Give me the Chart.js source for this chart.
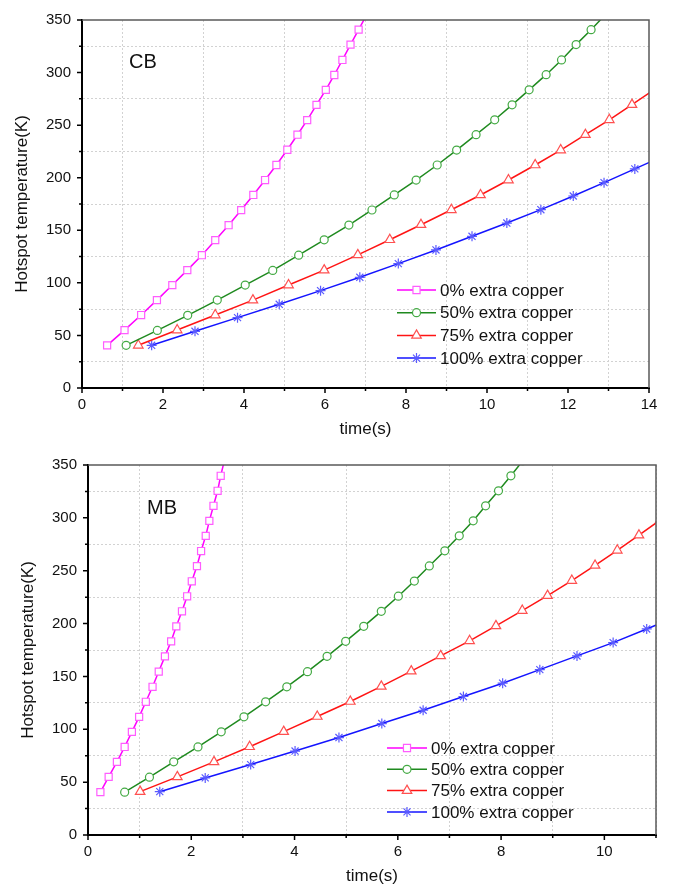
<!DOCTYPE html>
<html><head><meta charset="utf-8">
<script src="https://cdn.jsdelivr.net/npm/chart.js@4.4.1/dist/chart.umd.min.js"></script>
<style>
html,body{margin:0;padding:0;background:#fff;}
canvas{display:block;}
</style></head><body>
<canvas id="cb" width="676" height="445"></canvas>
<canvas id="mb" width="676" height="445"></canvas>
<script>
const FONT = "'Liberation Sans', Arial, sans-serif";

// ---------- data ----------
const seriesLabels = ['0% extra copper', '50% extra copper', '75% extra copper', '100% extra copper'];

// CB panel
const cbTime0   = [0.62,1.05,1.46,1.85,2.23,2.60,2.96,3.29,3.62,3.93,4.23,4.52,4.80,5.07,5.32,5.56,5.79,6.02,6.23,6.43,6.63,6.83,7.03];
const cbTemp0   = [40.6,55.0,69.4,83.6,97.9,112.1,126.3,140.6,154.8,169.2,183.6,197.8,212.1,226.6,240.9,254.8,269.3,283.6,297.7,312.0,326.6,340.8,355.0];
const cbTime50  = [1.09,1.86,2.61,3.34,4.03,4.71,5.35,5.98,6.59,7.16,7.71,8.25,8.77,9.25,9.73,10.19,10.62,11.04,11.46,11.84,12.20,12.57,12.92];
const cbTemp50  = [40.6,54.8,69.1,83.6,97.9,111.8,126.3,140.9,155.0,169.3,183.6,197.8,212.1,226.3,240.9,255.1,269.3,283.6,298.0,312.0,326.6,340.8,355.0];
const cbTime75  = [1.39,2.35,3.29,4.22,5.10,5.98,6.81,7.60,8.37,9.12,9.84,10.53,11.19,11.82,12.43,13.02,13.58,14.13];
const cbTemp75  = [40.6,55.1,69.4,83.6,97.9,112.1,126.6,141.0,155.3,169.5,183.6,197.8,212.1,226.3,240.9,255.1,269.5,283.8];
const cbTime100 = [1.72,2.79,3.84,4.87,5.89,6.86,7.81,8.74,9.63,10.49,11.33,12.13,12.89,13.65,14.40];
const cbTemp100 = [40.6,53.9,66.9,79.6,92.6,105.3,118.3,131.3,144.3,156.9,169.6,182.6,195.3,208.4,221.3];

// MB panel
const mbTime0   = [0.24,0.40,0.56,0.71,0.85,0.99,1.12,1.25,1.37,1.49,1.61,1.71,1.82,1.92,2.01,2.11,2.19,2.28,2.35,2.43,2.51,2.57,2.64];
const mbTemp0   = [40.5,55.0,69.2,83.3,97.6,111.8,126.0,140.2,154.6,169.0,183.2,197.4,211.6,225.8,240.0,254.4,268.6,283.0,297.2,311.4,325.6,339.8,354.0];
const mbTime50  = [0.71,1.19,1.66,2.13,2.58,3.02,3.44,3.85,4.25,4.63,4.99,5.34,5.68,6.01,6.32,6.61,6.91,7.19,7.46,7.70,7.95,8.19,8.42];
const mbTemp50  = [40.5,54.7,69.2,83.3,97.6,111.8,126.0,140.2,154.5,169.0,183.2,197.4,211.6,225.9,240.2,254.5,268.8,283.0,297.2,311.4,325.6,339.8,354.0];
const mbTime75  = [1.01,1.73,2.44,3.13,3.79,4.44,5.08,5.68,6.26,6.83,7.39,7.90,8.41,8.90,9.37,9.82,10.25,10.67,11.08];
const mbTemp75  = [41.0,55.0,69.2,83.5,97.8,112.1,126.3,140.6,155.0,169.4,183.7,197.8,212.3,226.4,240.7,255.0,269.3,283.6,297.9];
const mbTime100 = [1.39,2.27,3.15,4.01,4.86,5.69,6.49,7.27,8.03,8.75,9.47,10.17,10.82,11.45];
const mbTemp100 = [41.0,54.0,66.6,79.4,92.2,105.4,118.0,131.0,143.6,156.4,169.4,182.0,194.9,207.5];

// tick labels
const cbXTickLabels = [0,2,4,6,8,10,12,14];
const mbXTickLabels = [0,2,4,6,8,10];
const yTickLabels   = [0,50,100,150,200,250,300,350];

// ---------- styles ----------
const styles = [
  {line:'#ff00ff', mark:'#ff5cff', pointStyle:'rect',     radius:5},
  {line:'#1f8a1f', mark:'#44aa44', pointStyle:'circle',   radius:4},
  {line:'#ff1414', mark:'#ff5050', pointStyle:'triangle', radius:5.5},
  {line:'#1414ff', mark:'#5a5aff', pointStyle:'star',     radius:5}
];

const decor = {
  id: 'decor',
  afterDraw(chart, args, o) {
    const {ctx, chartArea: a, scales: {x, y}} = chart;
    ctx.save();
    ctx.lineCap = 'butt';
    // top & right frame
    ctx.strokeStyle = '#5a5a5a'; ctx.lineWidth = 1.5;
    ctx.beginPath(); ctx.moveTo(a.left, a.top); ctx.lineTo(a.right, a.top); ctx.lineTo(a.right, a.bottom); ctx.stroke();
    // outward tick marks
    ctx.strokeStyle = '#000'; ctx.lineWidth = 1.5;
    ctx.beginPath();
    x.ticks.forEach(t => {
      const p = x.getPixelForValue(t.value);
      const L = o.xMajor.includes(t.value) ? 5 : 3;
      ctx.moveTo(p, a.bottom); ctx.lineTo(p, a.bottom + L);
    });
    y.ticks.forEach(t => {
      const p = y.getPixelForValue(t.value);
      const L = o.yMajor.includes(t.value) ? 5 : 3;
      ctx.moveTo(a.left, p); ctx.lineTo(a.left - L, p);
    });
    ctx.stroke();
    // panel tag
    ctx.fillStyle = '#111'; ctx.font = '20px ' + FONT; ctx.textBaseline = 'middle'; ctx.textAlign = 'left';
    ctx.fillText(o.tag, a.left + o.tagDx, a.top + o.tagDy);
    // legend
    chart.data.datasets.forEach((ds, i) => {
      const yy = a.top + o.legDy + i * o.legGap;
      const x0 = a.left + o.legDx;
      ctx.strokeStyle = ds.borderColor; ctx.lineWidth = ds.borderWidth;
      ctx.beginPath(); ctx.moveTo(x0, yy); ctx.lineTo(x0 + o.legLen, yy); ctx.stroke();
      ctx.strokeStyle = ds.pointBorderColor; ctx.fillStyle = ds.pointBackgroundColor; ctx.lineWidth = ds.pointBorderWidth;
      Chart.helpers.drawPoint(ctx, {pointStyle: ds.pointStyle, radius: ds.pointRadius, rotation: 0, borderWidth: ds.pointBorderWidth}, x0 + o.legLen / 2, yy);
      ctx.fillStyle = '#111'; ctx.font = '17px ' + FONT; ctx.textBaseline = 'middle';
      ctx.fillText(ds.label, x0 + o.legLen + o.legTextGap, yy + 1);
    });
    ctx.restore();
  }
};

function makeChart(id, series, g) {
  const datasets = series.map((s, i) => ({
    label: seriesLabels[i],
    data: s.t.map((t, k) => ({x: t, y: s.T[k]})),
    showLine: true,
    borderColor: styles[i].line,
    borderWidth: 1.5,
    pointStyle: styles[i].pointStyle,
    pointRadius: styles[i].radius,
    pointHoverRadius: styles[i].radius,
    pointBorderColor: styles[i].mark,
    pointBackgroundColor: '#ffffff',
    pointBorderWidth: 1.2,
    tension: 0
  }));
  return new Chart(document.getElementById(id), {
    type: 'scatter',
    data: {datasets},
    plugins: [decor],
    options: {
      responsive: false, animation: false, devicePixelRatio: 1,
      layout: {padding: {left: 0, top: g.top, right: g.right, bottom: 0}},
      plugins: {legend: {display: false}, tooltip: {enabled: false}, decor: g},
      scales: {
        x: {
          type: 'linear', min: 0, max: g.xMax,
          afterFit: s => { s.height = g.xAxisH; },
          ticks: {stepSize: 1, autoSkip: false, maxRotation: 0, padding: 8, color: '#111',
                  font: {family: FONT, size: 15},
                  callback: v => g.xMajor.includes(v) ? String(v) : ''},
          grid: {drawTicks: false, lineWidth: 1,
                 color: c => (c.tick && Math.abs(c.tick.value % 2) === 1) ? '#d2d2d2' : 'rgba(0,0,0,0)'},
          border: {display: true, color: '#000', width: 2, dash: [2, 2]},
          title: {display: true, text: 'time(s)', color: '#111', font: {family: FONT, size: 17},
                  padding: {top: 0, bottom: g.xTitlePad}}
        },
        y: {
          type: 'linear', min: 0, max: 350,
          afterFit: s => { s.width = g.yAxisW; },
          ticks: {stepSize: 25, autoSkip: false, padding: 11, color: '#111',
                  font: {family: FONT, size: 15},
                  callback: v => g.yMajor.includes(v) ? String(v) : ''},
          grid: {drawTicks: false, lineWidth: 1,
                 color: c => (c.tick && c.tick.value % 50 === 25) ? '#d2d2d2' : 'rgba(0,0,0,0)'},
          border: {display: true, color: '#000', width: 2, dash: [2, 2]},
          title: {display: true, text: 'Hotspot temperature(K)', color: '#111', font: {family: FONT, size: 17},
                  padding: {top: g.yTitlePad, bottom: 0}}
        }
      }
    }
  });
}

makeChart('cb', [
  {t: cbTime0, T: cbTemp0}, {t: cbTime50, T: cbTemp50},
  {t: cbTime75, T: cbTemp75}, {t: cbTime100, T: cbTemp100}
], {
  top: 10, right: 27, yAxisW: 82, xAxisH: 57, xMax: 14,
  xMajor: cbXTickLabels, yMajor: yTickLabels,
  yTitlePad: 12, xTitlePad: 5,
  tag: 'CB', tagDx: 47, tagDy: 42,
  legDx: 315, legDy: 270, legGap: 22.7, legLen: 39, legTextGap: 4
});

makeChart('mb', [
  {t: mbTime0, T: mbTemp0}, {t: mbTime50, T: mbTemp50},
  {t: mbTime75, T: mbTemp75}, {t: mbTime100, T: mbTemp100}
], {
  top: 12, right: 20, yAxisW: 88, xAxisH: 55, xMax: 11,
  xMajor: mbXTickLabels, yMajor: yTickLabels,
  yTitlePad: 18, xTitlePad: 3,
  tag: 'MB', tagDx: 59, tagDy: 43,
  legDx: 299, legDy: 283, legGap: 21.3, legLen: 40, legTextGap: 4
});
</script></body></html>
